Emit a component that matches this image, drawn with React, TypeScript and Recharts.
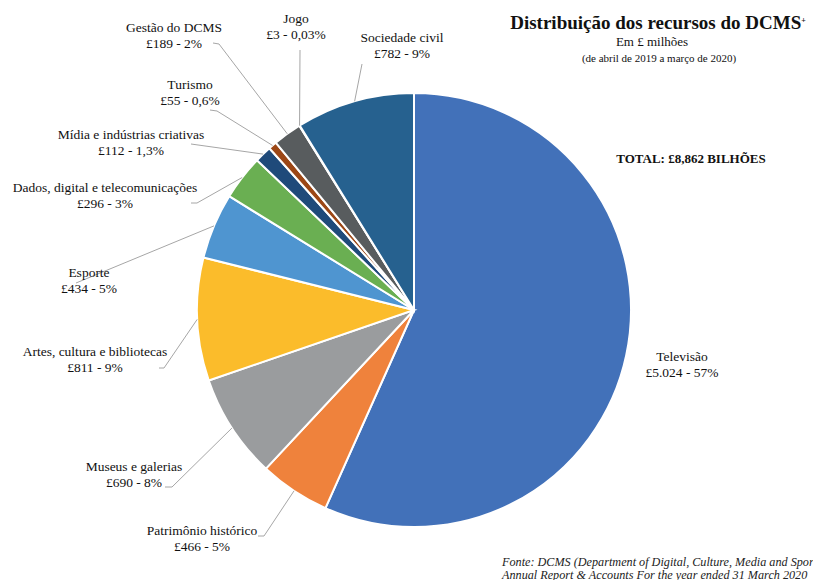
import React from "react";
import { PieChart, Pie, Cell } from "recharts";

const categories = [
  "Televisão",
  "Patrimônio histórico",
  "Museus e galerias",
  "Artes, cultura e bibliotecas",
  "Esporte",
  "Dados, digital e telecomunicações",
  "Mídia e indústrias criativas",
  "Turismo",
  "Gestão do DCMS",
  "Jogo",
  "Sociedade civil",
];
const values = [5024, 466, 690, 811, 434, 296, 112, 55, 189, 3, 782];
const pctLabels = ["57%", "5%", "8%", "9%", "5%", "3%", "1,3%", "0,6%", "2%", "0,03%", "9%"];
const colors = [
  "#4271B9",
  "#EF823C",
  "#9A9C9E",
  "#FBBC2B",
  "#4F95D0",
  "#6AAF52",
  "#1F4A7A",
  "#9C4716",
  "#585C5E",
  "#6E6E6E",
  "#26618F",
];

// label layout: text centre x, first-line y, and leader line points (end near text, optional elbow)
const labelLayout: { x: number; y: number; pts: number[][] | null }[] = [
  { x: 682, y: 361, pts: null },
  { x: 202, y: 535, pts: [[258, 536], [264, 536]] },
  { x: 134, y: 471, pts: [[165, 487], [172, 487]] },
  { x: 95, y: 356, pts: [[159, 368], [164, 368]] },
  { x: 89, y: 277, pts: [[76, 283]] },
  { x: 105, y: 192, pts: [[191, 203], [197, 203]] },
  { x: 131, y: 139, pts: [[191, 144]] },
  { x: 190, y: 89, pts: [[210, 110], [217, 111]] },
  { x: 174, y: 32, pts: [[213, 43], [219, 44]] },
  { x: 296, y: 23, pts: [[300, 50]] },
  { x: 402, y: 42, pts: [[362, 64]] },
];

const data = categories.map((name, i) => ({ name, value: values[i] }));

const fmt = (v: number) => String(v).replace(/\B(?=(\d{3})+(?!\d))/g, ".");

const RADIAN = Math.PI / 180;
const SERIF = "'Liberation Serif', 'Times New Roman', serif";

const renderLabel = (props: any) => {
  const { cx, cy, midAngle, outerRadius, index } = props;
  const lay = labelLayout[index];
  const ax = cx + outerRadius * Math.cos(-midAngle * RADIAN);
  const ay = cy + outerRadius * Math.sin(-midAngle * RADIAN);
  let line = null;
  if (lay.pts) {
    const pts = [[ax, ay], ...lay.pts.slice().reverse()];
    line = (
      <polyline
        points={pts.map((p) => p.join(",")).join(" ")}
        fill="none"
        stroke="#A6A6A6"
        strokeWidth={1}
      />
    );
  }
  const ts = { fontFamily: SERIF, fontSize: 13.5 };
  return (
    <g key={`lbl-${index}`}>
      {line}
      <text x={lay.x} y={lay.y} textAnchor="middle" style={ts} fill="#111">
        <tspan x={lay.x} dy={0} style={ts}>{categories[index]}</tspan>
        <tspan x={lay.x} dy={16} style={ts}>{`£${fmt(values[index])} - ${pctLabels[index]}`}</tspan>
      </text>
    </g>
  );
};

export default function App() {
  return (
    <div style={{ width: 813, height: 580, position: "absolute", left: 0, top: 0, background: "#fff", overflow: "hidden", fontFamily: SERIF }}>
      <PieChart width={813} height={580} margin={{ top: 0, right: 0, bottom: 0, left: 0 }} style={{ fontFamily: SERIF }}>
        <Pie
          data={data}
          dataKey="value"
          nameKey="name"
          cx={414}
          cy={310}
          outerRadius={217}
          startAngle={90}
          endAngle={-270}
          stroke="#fff"
          strokeWidth={2}
          isAnimationActive={false}
          label={renderLabel}
          labelLine={false}
        >
          {data.map((d, i) => (
            <Cell key={d.name} fill={colors[i]} />
          ))}
        </Pie>
        <text x={658} y={29} textAnchor="middle" style={{ fontFamily: SERIF }} fontWeight="bold" fontSize={19} fill="#111">
          Distribuição dos recursos do DCMS
          <tspan fontSize={8} dy={-6}>+</tspan>
        </text>
        <text x={652} y={46} textAnchor="middle" style={{ fontFamily: SERIF }} fontSize={13} fill="#111">
          Em £ milhões
        </text>
        <text x={659} y={62} textAnchor="middle" style={{ fontFamily: SERIF }} fontSize={11} fill="#111">
          (de abril de 2019 a março de 2020)
        </text>
        <text x={691} y={163} textAnchor="middle" style={{ fontFamily: SERIF }} fontWeight="bold" fontSize={13} fill="#111">
          TOTAL: £8,862 BILHÕES
        </text>
        <text x={502} y={566} style={{ fontFamily: SERIF }} fontStyle="italic" fontSize={12.2} fill="#222">
          Fonte: DCMS (Department of Digital, Culture, Media and Sport)
        </text>
        <text x={502} y={579} style={{ fontFamily: SERIF }} fontStyle="italic" fontSize={12.2} fill="#222">
          Annual Report &amp; Accounts For the year ended 31 March 2020
        </text>
      </PieChart>
    </div>
  );
}
